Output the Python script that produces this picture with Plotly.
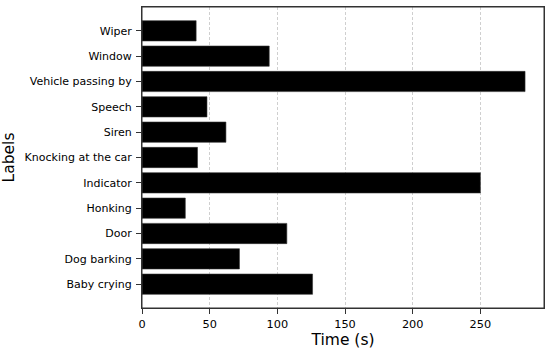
import plotly.graph_objects as go

labels = ["Baby crying", "Dog barking", "Door", "Honking", "Indicator",
          "Knocking at the car", "Siren", "Speech", "Vehicle passing by",
          "Window", "Wiper"]
times = [126, 72, 107, 32, 250, 41, 62, 48, 283, 94, 40]

x_ticks = [0, 50, 100, 150, 200, 250]

fig = go.Figure(go.Bar(
    y=labels, x=times, orientation="h",
    marker=dict(color="black", line=dict(color="#333333", width=0.6)),
    width=0.8,
))

font = "DejaVu Sans, sans-serif"
fig.update_layout(
    width=550, height=351,
    margin=dict(l=142, r=6, t=7, b=43, autoexpand=False),
    plot_bgcolor="white", paper_bgcolor="white",
    font=dict(family=font, color="black", size=11),
    showlegend=False,
    bargap=0.2,
    shapes=[dict(type="rect", xref="paper", yref="paper", x0=0, x1=1, y0=0, y1=1,
                 line=dict(color="#333333", width=1), fillcolor="rgba(0,0,0,0)",
                 layer="above")],
)
fig.update_xaxes(
    range=[0, 297], tickvals=x_ticks, ticktext=[str(v) for v in x_ticks],
    showgrid=True, gridcolor="#cfcfcf", griddash="3px,2px", gridwidth=0.8,
    showline=True, linecolor="#333333", linewidth=1, mirror=True,
    ticks="outside", ticklen=5, tickcolor="#333333", tickwidth=1,
    zeroline=False, layer="above traces", automargin=False,
    title=dict(text="Time (s)", font=dict(size=15.5, family=font), standoff=2),
    tickfont=dict(size=11.3, family=font),
)
fig.update_yaxes(
    range=[-0.94, 10.94],
    showgrid=False, automargin=False,
    showline=True, linecolor="#333333", linewidth=1, mirror=True,
    ticks="outside", ticklen=5, tickcolor="#333333", tickwidth=1,
    ticklabelstandoff=2,
    zeroline=False,
    title=dict(text="Labels", font=dict(size=15.5, family=font), standoff=6),
    tickfont=dict(size=11, family=font),
)

fig.write_html(
    "out.html",
    config={"displayModeBar": False},
    post_script="document.body.style.margin='0';document.body.style.overflow='hidden';",
)
